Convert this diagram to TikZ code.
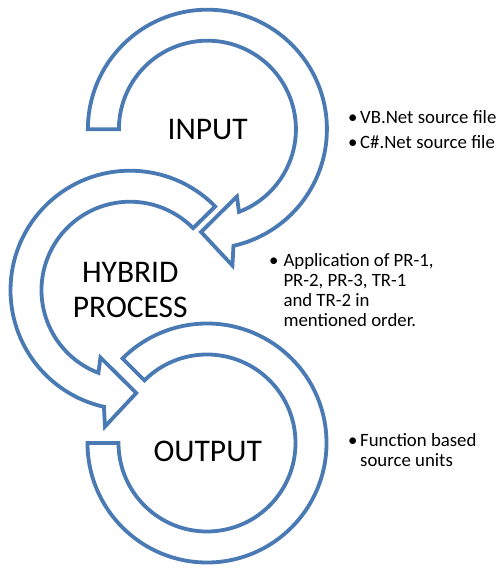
\documentclass[tikz,border=0pt]{standalone}
\usepackage{fontspec}
\setmainfont{Carlito}
\definecolor{ringblue}{RGB}{74,122,180}
\tikzset{
  ring/.style={draw=ringblue, line width=3.8pt, fill=white, line join=miter},
  bigtext/.style={inner sep=0pt, font=\fontsize{31.5}{35.5}\selectfont},
  smalltext/.style={inner sep=0pt, anchor=base west, font=\fontsize{18.8}{20}\selectfont},
}
\begin{document}
\begin{tikzpicture}[x=1pt,y=1pt]
\useasboundingbox (0,0) rectangle (497,568);
\coordinate (c1) at (207.4,438.8);
\coordinate (c2) at (130,277.8);
\coordinate (c3) at (207,125);
% OUTPUT ring
\begin{scope}[shift={(c3)}]
\draw[ring] (180:88.5pt) -- (180:119.5pt) arc[start angle=180, end angle=495, radius=119.5pt]
  -- (135:88.5pt) arc[start angle=495, end angle=180, radius=88.5pt] -- cycle;
\end{scope}
% HYBRID ring
\begin{scope}[shift={(c2)}]
\draw[ring] (44.5:88.5pt) -- (44.5:119.5pt) arc[start angle=44.5, end angle=257.4, radius=119.5pt]
  -- (259.6:138.6pt) -- (273.5:103pt) -- (246.3:73.5pt) -- (249.1:88.5pt)
  arc[start angle=249.1, end angle=44.5, radius=88.5pt] -- cycle;
\end{scope}
% INPUT ring
\begin{scope}[shift={(c1)}]
\draw[ring] (180:88.5pt) -- (180:119.5pt) arc[start angle=180, end angle=-77.4, radius=119.5pt]
  -- (-79.6:138.6pt) -- (-93.5:103pt) -- (-66.3:73.5pt) -- (-69.1:88.5pt)
  arc[start angle=-69.1, end angle=180, radius=88.5pt] -- cycle;
\end{scope}
% centre labels
\node[bigtext, anchor=base] (tin) at (207.7,428.7) {INPUT};
\node[bigtext, anchor=base] (thy) at (130.3,285.5) {\begin{tabular}[t]{@{}c@{}}HYBRID\\PROCESS\end{tabular}};
\node[bigtext, anchor=base] (tout) at (207.7,106.3) {OUTPUT};
% bullet texts
\node[smalltext] (b1) at (348,444.7) {•};
\node[smalltext] (b2) at (348,419.7) {•};
\node[smalltext] (l1) at (360,444.7) {VB.Net source file};
\node[smalltext] (l2) at (360,419.7) {C\#.Net source file};
\node[smalltext] (b3) at (269,301.3) {•};
\node[smalltext] (l3) at (283.3,301.3) {\begin{tabular}[t]{@{}l@{}}Application of PR-1,\\PR-2, PR-3, TR-1\\and TR-2 in\\mentioned order.\end{tabular}};
\node[smalltext] (b4) at (348,121.3) {•};
\node[smalltext] (l4) at (360,121.3) {\begin{tabular}[t]{@{}l@{}}Function based\\source units\end{tabular}};
\end{tikzpicture}
\end{document}
